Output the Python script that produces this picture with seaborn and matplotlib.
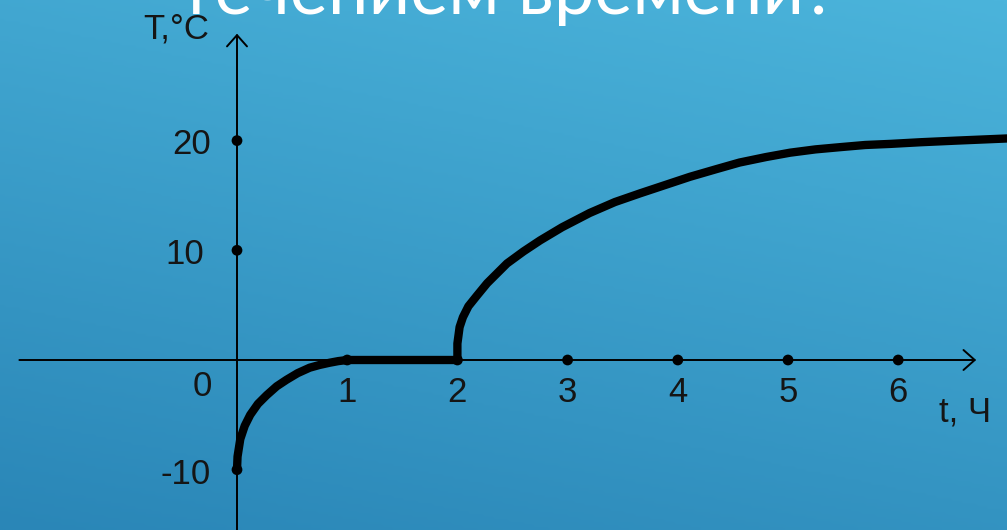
import numpy as np
import pandas as pd
import matplotlib
matplotlib.use("Agg")
import matplotlib.pyplot as plt
from matplotlib.colors import LinearSegmentedColormap
import seaborn as sns

# ---- data ----
t_cool = [0.0, 0.005, 0.03, 0.07, 0.12, 0.19, 0.27, 0.36, 0.45, 0.55, 0.66, 0.75, 0.84, 0.92, 1.0]
T_cool = [-10.0, -8.8, -7.2, -6.0, -5.0, -4.0, -3.2, -2.4, -1.8, -1.2, -0.7, -0.45, -0.25, -0.1, 0.0]
t_melt = [1.0, 2.0]
T_melt = [0.0, 0.0]
t_heat = [2.0, 2.0, 2.02, 2.05, 2.1, 2.18, 2.27, 2.36, 2.45, 2.6, 2.75, 2.95, 3.2, 3.43,
          3.66, 3.9, 4.11, 4.35, 4.56, 4.8, 5.02, 5.25, 5.47, 5.7, 5.93, 6.2, 6.53, 7.0]
T_heat = [0.0, 1.5, 3.0, 3.9, 4.9, 5.9, 7.0, 7.9, 8.8, 9.9, 10.9, 12.1, 13.4, 14.4,
          15.2, 16.0, 16.7, 17.4, 18.0, 18.5, 18.9, 19.2, 19.4, 19.6, 19.7, 19.85, 20.0, 20.2]
x_ticks = [1, 2, 3, 4, 5, 6]
x_tick_labels = ["1", "2", "3", "4", "5", "6"]
y_ticks = [-10, 10, 20]
y_tick_labels = ["-10", "10", "20"]
x_label = "t, Ч"
y_label = "T,°C"
title_text = "течением времени?"

sns.set_theme(style="white")
plt.rcParams['font.family'] = ['Liberation Sans Narrow', 'Liberation Sans', 'DejaVu Sans']

W, H = 1007, 530
fig = plt.figure(figsize=(W / 100, H / 100), dpi=100)
ax = fig.add_axes([0, 0, 1, 1])
xmin, xmax = -237 / 110.2, (W - 237) / 110.2
ymin, ymax = -(530 - 360) / 10.97, 360 / 10.97
ax.set_xlim(xmin, xmax)
ax.set_ylim(ymin, ymax)
ax.axis("off")

# background gradient
gx, gy = np.meshgrid(np.linspace(0, 1, 200), np.linspace(0, 1, 200))
w = 0.72 * gy + 0.28 * gx
cmap = LinearSegmentedColormap.from_list("bg", ["#2a86b7", "#4bb4db"])
ax.imshow(w, extent=[xmin, xmax, ymin, ymax], origin="lower", cmap=cmap,
          aspect="auto", zorder=0, vmin=0, vmax=1)

# axes with arrows
ax.annotate("", xy=(6.733, 0), xytext=(-2.0, 0),
            arrowprops=dict(arrowstyle="->,head_length=0.45,head_width=0.4",
                            mutation_scale=18, lw=1.4, color="black"), zorder=2)
ax.annotate("", xy=(0, 30.0), xytext=(0, ymin - 1),
            arrowprops=dict(arrowstyle="->,head_length=0.45,head_width=0.4",
                            mutation_scale=18, lw=1.4, color="black"), zorder=2)

# curve
lw = 6.0
for tt, TT in [(t_cool, T_cool), (t_melt, T_melt), (t_heat, T_heat)]:
    df = pd.DataFrame({"t": tt, "T": TT})
    sns.lineplot(data=df, x="t", y="T", sort=False, estimator=None, ax=ax,
                 color="black", lw=lw, solid_capstyle="round",
                 solid_joinstyle="round", zorder=3)

# tick dots
dots = pd.DataFrame({"t": x_ticks + [0] * len(y_ticks),
                     "T": [0] * len(x_ticks) + y_ticks})
sns.scatterplot(data=dots, x="t", y="T", ax=ax, color="black", s=60,
                edgecolor="none", zorder=4)


def px2d(px, py):
    return (px - 237) / 110.2, (360 - py) / 10.97


fs = 25
tc = "#151515"
for xv, lab in zip(x_ticks, x_tick_labels):
    ax.text(xv, px2d(0, 392)[1], lab, ha="center", va="center", fontsize=fs,
            color=tc, zorder=5)
ax.text(*px2d(212, 386), "0", ha="right", va="center", fontsize=fs, color=tc)
for yv, lab, rx in zip(y_ticks, y_tick_labels, [211, 204, 211]):
    ax.text(px2d(rx, 0)[0], yv - 0.4, lab, ha="right", va="center",
            fontsize=fs, color=tc)
ax.text(*px2d(965, 412), x_label, ha="center", va="center", fontsize=fs, color=tc)
ax.text(*px2d(143, 29), y_label, ha="left", va="center", fontsize=fs, color=tc, zorder=6)

fig.text(507 / W, 1 - 14 / H, title_text, ha="center", va="baseline",
         fontsize=52, color="white", family=["Lato", "DejaVu Sans"], fontweight="normal")

fig.savefig("out.png", dpi=100)
